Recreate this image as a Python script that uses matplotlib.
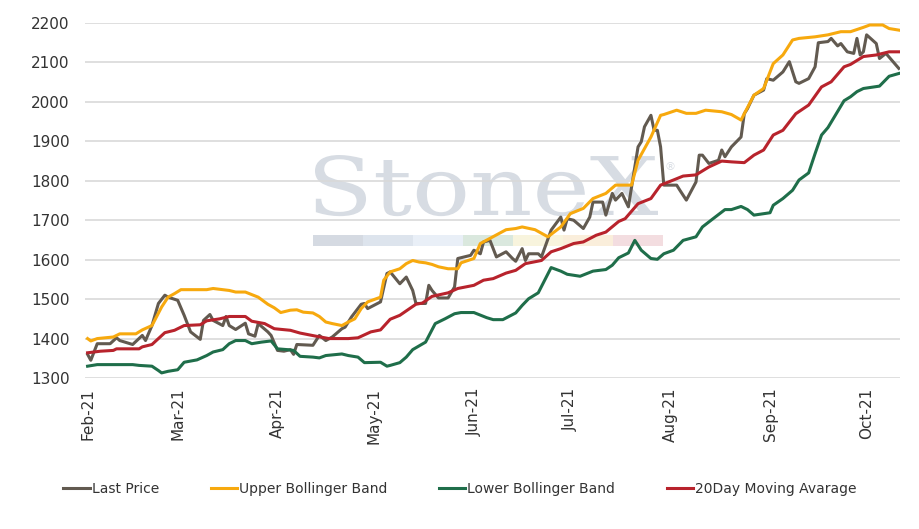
import matplotlib
matplotlib.use("Agg")
import matplotlib.pyplot as plt
import matplotlib.dates as mdates
from matplotlib.textpath import TextPath
from matplotlib.patches import PathPatch, Rectangle
from matplotlib.font_manager import FontProperties
from matplotlib.transforms import Affine2D
import pandas as pd

# %% data (date, value)
last_dates = ['2021-02-01', '2021-02-02', '2021-02-04', '2021-02-08', '2021-02-10', '2021-02-11',
              '2021-02-15', '2021-02-18', '2021-02-19', '2021-02-21', '2021-02-23', '2021-02-25',
              '2021-02-26', '2021-03-01', '2021-03-03', '2021-03-05', '2021-03-08', '2021-03-09',
              '2021-03-11', '2021-03-12', '2021-03-15', '2021-03-16', '2021-03-17', '2021-03-19',
              '2021-03-22', '2021-03-23', '2021-03-25', '2021-03-26', '2021-03-29', '2021-03-30',
              '2021-04-01', '2021-04-03', '2021-04-05', '2021-04-06', '2021-04-07', '2021-04-12',
              '2021-04-14', '2021-04-16', '2021-04-18', '2021-04-21', '2021-04-22', '2021-04-24',
              '2021-04-27', '2021-04-28', '2021-04-29', '2021-05-03', '2021-05-05', '2021-05-06',
              '2021-05-09', '2021-05-11', '2021-05-13', '2021-05-14', '2021-05-17', '2021-05-18',
              '2021-05-19', '2021-05-21', '2021-05-24', '2021-05-26', '2021-05-27', '2021-05-31',
              '2021-06-01', '2021-06-03', '2021-06-04', '2021-06-06', '2021-06-08', '2021-06-11',
              '2021-06-13', '2021-06-14', '2021-06-16', '2021-06-17', '2021-06-18', '2021-06-21',
              '2021-06-22', '2021-06-25', '2021-06-28', '2021-06-29', '2021-06-30', '2021-07-02',
              '2021-07-05', '2021-07-07', '2021-07-08', '2021-07-11', '2021-07-12', '2021-07-14',
              '2021-07-15', '2021-07-17', '2021-07-19', '2021-07-20', '2021-07-22', '2021-07-23',
              '2021-07-24', '2021-07-26', '2021-07-27', '2021-07-28', '2021-07-29', '2021-07-30',
              '2021-08-03', '2021-08-04', '2021-08-06', '2021-08-09', '2021-08-10', '2021-08-11',
              '2021-08-13', '2021-08-16', '2021-08-17', '2021-08-18', '2021-08-20', '2021-08-23',
              '2021-08-24', '2021-08-25', '2021-08-27', '2021-08-30', '2021-08-31', '2021-09-02',
              '2021-09-05', '2021-09-07', '2021-09-09', '2021-09-10', '2021-09-13', '2021-09-15',
              '2021-09-16', '2021-09-19', '2021-09-20', '2021-09-22', '2021-09-23', '2021-09-25',
              '2021-09-27', '2021-09-28', '2021-09-29', '2021-09-30', '2021-10-01', '2021-10-04',
              '2021-10-05', '2021-10-07', '2021-10-11']
last_price = [1360, 1345, 1387, 1387, 1402, 1395,
              1385, 1408, 1395, 1433, 1489, 1510,
              1505, 1497, 1459, 1417, 1398, 1446,
              1461, 1446, 1433, 1456, 1433, 1423,
              1439, 1412, 1406, 1438, 1417, 1408,
              1370, 1368, 1372, 1360, 1385, 1383,
              1408, 1395, 1404, 1425, 1429, 1455,
              1487, 1489, 1476, 1493, 1565, 1569,
              1539, 1556, 1522, 1489, 1489, 1535,
              1522, 1503, 1503, 1531, 1603, 1611,
              1624, 1615, 1645, 1649, 1607, 1620,
              1603, 1596, 1628, 1598, 1615, 1615,
              1607, 1675, 1708, 1675, 1704, 1700,
              1679, 1708, 1746, 1746, 1713, 1768,
              1751, 1768, 1734, 1785, 1886, 1899,
              1937, 1966, 1928, 1928, 1886, 1789,
              1789, 1776, 1751, 1797, 1865, 1865,
              1844, 1852, 1878, 1861, 1886, 1911,
              1970, 1983, 2017, 2030, 2059, 2055,
              2076, 2102, 2051, 2047, 2059, 2089,
              2150, 2153, 2161, 2142, 2148, 2127,
              2123, 2161, 2119, 2127, 2170, 2148,
              2110, 2123, 2085]

upper_dates = ['2021-02-01', '2021-02-02', '2021-02-04', '2021-02-09', '2021-02-11', '2021-02-16',
               '2021-02-18', '2021-02-21', '2021-02-24', '2021-02-26', '2021-02-28', '2021-03-02',
               '2021-03-10', '2021-03-12', '2021-03-17', '2021-03-19', '2021-03-22', '2021-03-26',
               '2021-03-29', '2021-03-31', '2021-04-02', '2021-04-05', '2021-04-07', '2021-04-09',
               '2021-04-12', '2021-04-14', '2021-04-16', '2021-04-18', '2021-04-21', '2021-04-23',
               '2021-04-25', '2021-04-27', '2021-04-29', '2021-05-03', '2021-05-04', '2021-05-06',
               '2021-05-09', '2021-05-11', '2021-05-13', '2021-05-15', '2021-05-17', '2021-05-19',
               '2021-05-21', '2021-05-24', '2021-05-27', '2021-05-28', '2021-06-01', '2021-06-03',
               '2021-06-06', '2021-06-11', '2021-06-14', '2021-06-16', '2021-06-20', '2021-06-24',
               '2021-06-28', '2021-07-01', '2021-07-05', '2021-07-08', '2021-07-12', '2021-07-15',
               '2021-07-20', '2021-07-22', '2021-07-26', '2021-07-29', '2021-07-30', '2021-08-03',
               '2021-08-06', '2021-08-09', '2021-08-12', '2021-08-17', '2021-08-20', '2021-08-23',
               '2021-08-24', '2021-08-27', '2021-08-30', '2021-09-02', '2021-09-05', '2021-09-08',
               '2021-09-10', '2021-09-15', '2021-09-19', '2021-09-23', '2021-09-26', '2021-09-30',
               '2021-10-02', '2021-10-06', '2021-10-08', '2021-10-11']
upper_band = [1400, 1394, 1400, 1404, 1412, 1412,
              1422, 1433, 1480, 1505, 1514, 1524,
              1524, 1527, 1522, 1518, 1518, 1505,
              1487, 1478, 1466, 1472, 1473, 1467,
              1465, 1456, 1442, 1438, 1433, 1442,
              1450, 1476, 1493, 1505, 1548, 1569,
              1577, 1590, 1598, 1594, 1592, 1588,
              1582, 1577, 1577, 1592, 1603, 1641,
              1654, 1676, 1679, 1683, 1676, 1658,
              1683, 1717, 1730, 1755, 1768, 1789,
              1789, 1852, 1911, 1966, 1968, 1979,
              1971, 1971, 1979, 1975, 1968, 1954,
              1970, 2017, 2034, 2097, 2119, 2157,
              2161, 2165, 2170, 2178, 2178, 2189,
              2195, 2195, 2186, 2182]

lower_dates = ['2021-02-01', '2021-02-04', '2021-02-08', '2021-02-15', '2021-02-17', '2021-02-21',
               '2021-02-23', '2021-02-24', '2021-02-26', '2021-03-01', '2021-03-03', '2021-03-07',
               '2021-03-10', '2021-03-12', '2021-03-15', '2021-03-17', '2021-03-19', '2021-03-22',
               '2021-03-24', '2021-03-27', '2021-03-30', '2021-04-01', '2021-04-04', '2021-04-06',
               '2021-04-08', '2021-04-12', '2021-04-14', '2021-04-16', '2021-04-21', '2021-04-23',
               '2021-04-26', '2021-04-28', '2021-05-03', '2021-05-05', '2021-05-06', '2021-05-09',
               '2021-05-11', '2021-05-13', '2021-05-17', '2021-05-20', '2021-05-23', '2021-05-26',
               '2021-05-28', '2021-06-01', '2021-06-05', '2021-06-07', '2021-06-10', '2021-06-14',
               '2021-06-16', '2021-06-18', '2021-06-21', '2021-06-23', '2021-06-25', '2021-06-28',
               '2021-06-30', '2021-07-04', '2021-07-08', '2021-07-12', '2021-07-14', '2021-07-16',
               '2021-07-19', '2021-07-21', '2021-07-23', '2021-07-26', '2021-07-28', '2021-07-30',
               '2021-08-02', '2021-08-05', '2021-08-09', '2021-08-11', '2021-08-14', '2021-08-18',
               '2021-08-20', '2021-08-23', '2021-08-25', '2021-08-27', '2021-09-01', '2021-09-02',
               '2021-09-05', '2021-09-08', '2021-09-10', '2021-09-13', '2021-09-15', '2021-09-17',
               '2021-09-19', '2021-09-24', '2021-09-26', '2021-09-28', '2021-09-30', '2021-10-05',
               '2021-10-08', '2021-10-11']
lower_band = [1330, 1334, 1334, 1334, 1332, 1330,
              1319, 1313, 1317, 1321, 1340, 1346,
              1357, 1366, 1372, 1387, 1395, 1395,
              1387, 1391, 1394, 1374, 1372, 1370,
              1355, 1353, 1351, 1357, 1361, 1357,
              1353, 1339, 1340, 1330, 1332, 1339,
              1353, 1372, 1391, 1438, 1450, 1463,
              1466, 1466, 1453, 1448, 1448, 1465,
              1484, 1501, 1516, 1548, 1580, 1571,
              1563, 1558, 1571, 1575, 1586, 1605,
              1617, 1649, 1624, 1603, 1601, 1615,
              1624, 1649, 1658, 1683, 1702, 1727,
              1727, 1735, 1727, 1713, 1719, 1738,
              1755, 1776, 1802, 1820, 1869, 1916,
              1935, 2003, 2013, 2026, 2034, 2040,
              2065, 2072]

ma_dates = ['2021-02-01', '2021-02-05', '2021-02-09', '2021-02-10', '2021-02-17', '2021-02-18',
            '2021-02-21', '2021-02-23', '2021-02-25', '2021-02-28', '2021-03-03', '2021-03-08',
            '2021-03-10', '2021-03-14', '2021-03-17', '2021-03-22', '2021-03-24', '2021-03-28',
            '2021-03-31', '2021-04-05', '2021-04-08', '2021-04-13', '2021-04-17', '2021-04-23',
            '2021-04-26', '2021-04-30', '2021-05-03', '2021-05-06', '2021-05-09', '2021-05-14',
            '2021-05-16', '2021-05-19', '2021-05-24', '2021-05-27', '2021-06-01', '2021-06-04',
            '2021-06-07', '2021-06-11', '2021-06-14', '2021-06-17', '2021-06-22', '2021-06-25',
            '2021-06-28', '2021-07-02', '2021-07-05', '2021-07-09', '2021-07-12', '2021-07-16',
            '2021-07-18', '2021-07-22', '2021-07-26', '2021-07-29', '2021-08-02', '2021-08-05',
            '2021-08-09', '2021-08-13', '2021-08-17', '2021-08-20', '2021-08-24', '2021-08-27',
            '2021-08-30', '2021-09-02', '2021-09-05', '2021-09-09', '2021-09-13', '2021-09-17',
            '2021-09-20', '2021-09-24', '2021-09-26', '2021-09-30', '2021-10-04', '2021-10-08',
            '2021-10-11']
moving_avg = [1364, 1368, 1370, 1374, 1374, 1379,
              1385, 1400, 1415, 1421, 1433, 1435,
              1445, 1450, 1456, 1456, 1444, 1438,
              1425, 1421, 1414, 1406, 1400, 1400,
              1402, 1417, 1422, 1449, 1459, 1487,
              1490, 1507, 1516, 1527, 1535, 1548,
              1552, 1566, 1573, 1590, 1598, 1620,
              1628, 1641, 1645, 1662, 1670, 1697,
              1704, 1742, 1755, 1789, 1802, 1812,
              1815, 1835, 1850, 1848, 1846, 1865,
              1878, 1916, 1928, 1970, 1992, 2038,
              2051, 2089, 2095, 2115, 2119, 2127,
              2127]

series_names = ['Last Price', 'Upper Bollinger Band', 'Lower Bollinger Band', '20Day Moving Avarage']
series_colors = ['#625a50', '#f7a90e', '#1f6e4a', '#b8232c']

# %% figure
fig = plt.figure(figsize=(9.2, 5.29), dpi=100)
ax = fig.add_axes([0.0924, 0.2854, 0.8856, 0.6711])
ax.set_zorder(2)
ax.set_facecolor('none')

# watermark behind the axes
W, H = 920.0, 529.0
wm_prop = FontProperties(family='DejaVu Serif')
tp = TextPath((0, 0), 'StoneX', size=1, prop=wm_prop)
ext = tp.get_extents()
sx = (343 / W) / ext.width
sy = (60 / H) / tp.vertices[:, 1].max()
tr = Affine2D().translate(-ext.x0, 0).scale(sx, sy).translate(315 / W, 1 - 215 / H)
fig.patches.append(PathPatch(tr.transform_path(tp), transform=fig.transFigure,
                             facecolor='#d7dce3', edgecolor='none', zorder=0))
fig.text(664 / W, 1 - 167 / H, '®', fontsize=8, color='#d7dce3', ha='left', va='center', zorder=0)
bar_colors = ['#d5dae2', '#dde4ed', '#e9eff7', '#dae8de', '#f8f4dd', '#faeedb', '#f3dde0']
for i, c in enumerate(bar_colors):
    fig.patches.append(Rectangle(((313 + i * 50) / W, 1 - 246 / H), 50 / W, 11 / H,
                                 transform=fig.transFigure, facecolor=c, edgecolor='none', zorder=0))

for dates, vals, name, col in zip([last_dates, upper_dates, lower_dates, ma_dates],
                                  [last_price, upper_band, lower_band, moving_avg],
                                  series_names, series_colors):
    ax.plot(pd.to_datetime(dates), vals, color=col, lw=2.2, label=name,
            solid_joinstyle='round', zorder=3)

ax.set_ylim(1300, 2200)
ax.set_yticks(range(1300, 2201, 100))
x0 = mdates.date2num(pd.Timestamp('2021-02-01')) - 0.8
x1 = mdates.date2num(pd.Timestamp('2021-10-11')) + 0.3
ax.set_xlim(x0, x1)
ax.xaxis.set_major_locator(mdates.MonthLocator())
ax.xaxis.set_major_formatter(mdates.DateFormatter('%b-%y'))
ax.grid(axis='y', color='#d9d9d9', lw=1.2, zorder=1)
ax.set_axisbelow(True)
for s in ax.spines.values():
    s.set_visible(False)
ax.tick_params(axis='both', length=0, labelsize=11, labelcolor='#333333')
ax.tick_params(axis='y', pad=11)
ax.tick_params(axis='x', pad=7)
plt.setp(ax.get_xticklabels(), rotation=90, va='top', ha='center')

fig.legend(loc='center', bbox_to_anchor=(0.5, 1 - 489 / H), ncol=4, frameon=False,
           fontsize=10, handlelength=1.9, handletextpad=0.15, columnspacing=3.7,
           labelcolor='#333333')

fig.savefig('out.png', dpi=100)
